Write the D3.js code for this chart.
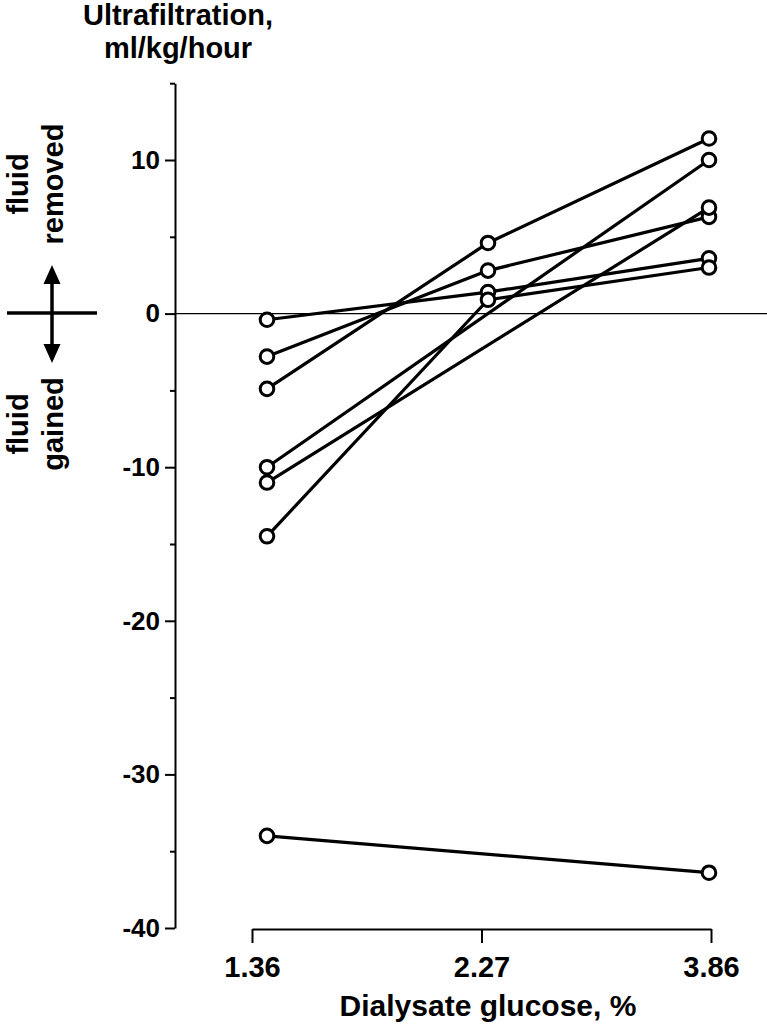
<!DOCTYPE html>
<html>
<head>
<meta charset="utf-8">
<script src="https://cdn.jsdelivr.net/npm/d3@7"></script>
<style>
  html, body { margin: 0; padding: 0; background: #fff; }
  svg { display: block; }
  text { font-family: "Liberation Sans", Arial, sans-serif; font-weight: bold; fill: #000; }
</style>
</head>
<body>
<svg id="chart" width="767" height="1032"></svg>
<script>
// ---- data ----
const categories = ["1.36", "2.27", "3.86"];
const patientA = [-4.9, 4.6, 11.4];
const patientB = [-2.8, 2.8, 6.3];
const patientC = [-0.4, 1.4, 3.6];
const patientD = [-14.5, 0.9, 3.0];
const patientE = [-10.0, null, 10.0];
const patientF = [-11.0, null, 6.9];
const patientG = [-34.0, null, -36.4];
const seriesList = [patientA, patientB, patientC, patientD, patientE, patientF, patientG];
const yMajorTicks = [10, 0, -10, -20, -30, -40];
const yMinorTicks = [15, 5, -5, -15, -25, -35];
const yDomain = [-40, 15];

// ---- layout ----
const svg = d3.select("#chart");
const y = d3.scaleLinear().domain(yDomain).range([928, 83.2]);
const xAxisScale = d3.scalePoint().domain(categories).range([252, 711]);
const xPoint = d3.scalePoint().domain(categories).range([267, 709]);
const axisX0 = 175;
const FONT = "'Liberation Sans', Arial, sans-serif";

// zero reference line
svg.append("line")
  .attr("x1", axisX0).attr("x2", 767)
  .attr("y1", y(0)).attr("y2", y(0))
  .attr("stroke", "#000").attr("stroke-width", 1.3);

// y axis
const yAxisG = svg.append("g").attr("transform", `translate(${axisX0},0)`)
  .call(d3.axisLeft(y).tickValues(yMajorTicks).tickSize(10).tickSizeOuter(0).tickPadding(5)
    .tickFormat(d => String(d)));
yAxisG.select(".domain").attr("stroke-width", 2);
yAxisG.selectAll(".tick line").attr("stroke-width", 2);
yAxisG.selectAll(".tick text").style("font-size", "26px").style("font-family", FONT).style("font-weight", "bold");

const yMinorG = svg.append("g").attr("transform", `translate(${axisX0},0)`)
  .call(d3.axisLeft(y).tickValues(yMinorTicks).tickSize(5).tickFormat(""));
yMinorG.select(".domain").remove();
yMinorG.selectAll(".tick line").attr("stroke-width", 2);

// x axis (offset bracket)
const xAxisG = svg.append("g").attr("transform", `translate(0,929)`)
  .call(d3.axisBottom(xAxisScale).tickSize(14).tickSizeOuter(0).tickPadding(13));
xAxisG.select(".domain").attr("stroke-width", 2);
xAxisG.selectAll(".tick line").attr("stroke-width", 2);
xAxisG.selectAll(".tick text").style("font-size", "29px").style("font-family", FONT).style("font-weight", "bold");

// lines
const line = d3.line()
  .x(d => xPoint(d.cat))
  .y(d => y(d.v));
const seriesPts = seriesList.map(s => s.map((v, i) => ({cat: categories[i], v})).filter(d => d.v !== null));

svg.append("g").selectAll("path").data(seriesPts).join("path")
  .attr("d", line)
  .attr("fill", "none")
  .attr("stroke", "#000")
  .attr("stroke-width", 3.2)
  .attr("stroke-linejoin", "round");

svg.append("g").selectAll("g").data(seriesPts).join("g")
  .selectAll("circle").data(d => d).join("circle")
  .attr("cx", d => xPoint(d.cat))
  .attr("cy", d => y(d.v))
  .attr("r", 6.8)
  .attr("fill", "#fff")
  .attr("stroke", "#000")
  .attr("stroke-width", 3);

// titles
svg.append("text").attr("x", 178).attr("y", 25).attr("text-anchor", "middle")
  .style("font-size", "29px").text("Ultrafiltration,");
svg.append("text").attr("x", 178).attr("y", 58).attr("text-anchor", "middle")
  .style("font-size", "29px").text("ml/kg/hour");
svg.append("text").attr("x", 488).attr("y", 1016).attr("text-anchor", "middle")
  .style("font-size", "30px").text("Dialysate glucose, %");

// direction annotation
const ann = svg.append("g");
[["fluid", 28, 184], ["removed", 63, 184], ["fluid", 28, 424], ["gained", 63, 424]].forEach(([t, tx, ty]) => {
  ann.append("text").attr("transform", `translate(${tx},${ty}) rotate(-90)`)
    .attr("text-anchor", "middle").style("font-size", "29px").text(t);
});
ann.append("line").attr("x1", 7).attr("x2", 97).attr("y1", 313).attr("y2", 313)
  .attr("stroke", "#000").attr("stroke-width", 3.5);
ann.append("line").attr("x1", 52).attr("x2", 52).attr("y1", 280).attr("y2", 348)
  .attr("stroke", "#000").attr("stroke-width", 3.5);
ann.append("path").attr("d", "M52,265 L60.5,284 L43.5,284 Z").attr("fill", "#000");
ann.append("path").attr("d", "M52,363 L60.5,344 L43.5,344 Z").attr("fill", "#000");
</script>
</body>
</html>
